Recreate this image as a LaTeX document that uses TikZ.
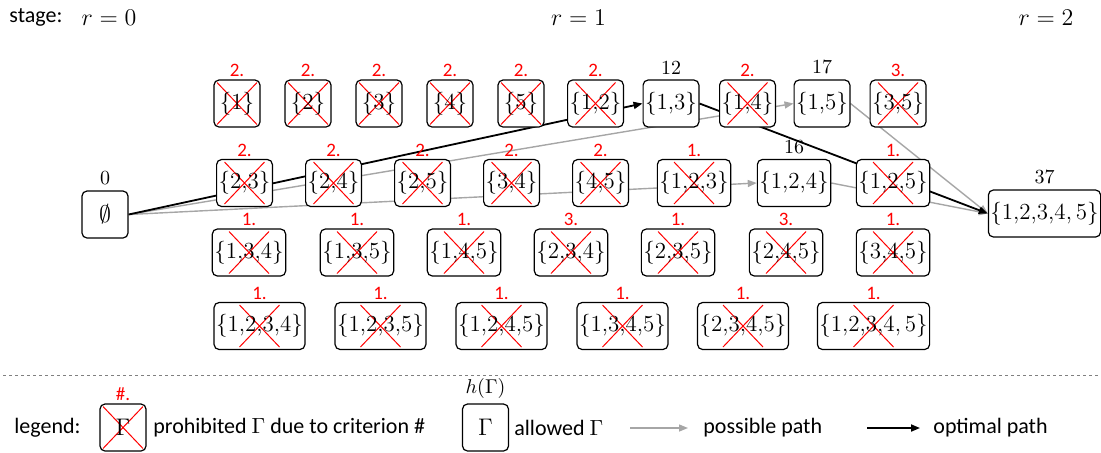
\documentclass[tikz,border=0pt]{standalone}
\usepackage{fontspec}
\setsansfont{Carlito}
\usetikzlibrary{arrows.meta,backgrounds}

\definecolor{pathgray}{RGB}{166,166,166}
\definecolor{crossred}{RGB}{255,0,0}

\tikzset{
  set/.style={draw, rounded corners=2.5pt, fill=white, line width=0.6pt,
    minimum width=23pt, minimum height=23.5pt, inner xsep=1pt, inner ysep=0pt,
    font=\fontsize{11.5}{13}\selectfont},
  crit/.style={text=crossred, font=\sffamily\fontsize{9.5}{10}\selectfont, inner sep=1pt},
  val/.style={font=\fontsize{10}{12}\selectfont, inner sep=1pt, label distance=1.5pt},
  banned/.style={set, label={[crit]above:#1},
    path picture={
      \draw[crossred, line width=0.5pt]
        ([shift={(-10pt,-10.5pt)}]path picture bounding box.center) --
        ([shift={(10pt,10.5pt)}]path picture bounding box.center)
        ([shift={(-10pt,10.5pt)}]path picture bounding box.center) --
        ([shift={(10pt,-10.5pt)}]path picture bounding box.center);
    }},
  ok/.style={set, label={[val]above:#1}},
  poss/.style={draw=pathgray, line width=0.7pt, -{Triangle[length=4.5pt,width=3.5pt]}},
  opt/.style={draw=black, line width=0.9pt, -{Triangle[length=4.5pt,width=3.5pt]}},
  txt/.style={font=\sffamily\fontsize{11}{13}\selectfont, inner sep=0pt, anchor=west},
  stg/.style={font=\fontsize{11.5}{13}\selectfont, inner sep=0pt},
}

\begin{document}
\begin{tikzpicture}[x=0.5pt, y=-0.5pt]
\useasboundingbox (0,0) rectangle (1101,452);

% stages
\node[txt] (stage) at (9,17) {stage:};
\node[stg] (r0) at (109,18) {$r=0$};
\node[stg] (r1) at (578.5,18) {$r=1$};
\node[stg] (r2) at (1046,18) {$r=2$};

% start and end
\node[ok=0] (start) at (105,214.5) {\fontsize{13}{13}\selectfont$\emptyset$};
\node[ok=37] (goal) at (1044.5,213.5) {\{1,2,3,4,\,5\}};

% sets with one or two elements
\foreach \n/\t/\x/\c in {1/1/237/2., 2/2/308/2., 3/3/379/2., 4/4/450/2., 5/5/521/2.,
    12/{1,2}/595.5/2., 14/{1,4}/747.5/2., 35/{3,5}/898/3.}
  \node[banned=\c] (n\n) at (\x,103.5) {\{\t\}};
\node[ok=12] (n13) at (671,103.5) {\{1,3\}};
\node[ok=17] (n15) at (822,103.5) {\{1,5\}};

\foreach \n/\t/\x/\c in {23/{2,3}/244.5/2., 24/{2,4}/333.5/2., 25/{2,5}/422.5/2.,
    34/{3,4}/511.5/2., 45/{4,5}/600.5/2., 123/{1,2,3}/694/1., 125/{1,2,5}/893/1.}
  \node[banned=\c] (n\n) at (\x,183) {\{\t\}};
\node[ok=16] (n124) at (794,183) {\{1,2,4\}};

% three elements
\foreach \n/\t/\x/\c in {134/{1,3,4}/249/1., 135/{1,3,5}/357/1., 145/{1,4,5}/464/1.,
    234/{2,3,4}/571/3., 235/{2,3,5}/678/1., 245/{2,4,5}/786/3., 345/{3,4,5}/893/1.}
  \node[banned=\c] (n\n) at (\x,252.5) {\{\t\}};

% four and five elements
\foreach \n/\t/\x in {1234/{1,2,3,4}/259.5, 1235/{1,2,3,5}/380.5, 1245/{1,2,4,5}/501.5,
    1345/{1,3,4,5}/622.5, 2345/{2,3,4,5}/743}
  \node[banned=1.] (n\n) at (\x,326) {\{\t\}};
\node[banned=1.] (n12345) at (873.5,326) {\{1,2,3,4,\,5\}};

% paths
\begin{scope}[on background layer]
  \draw[poss] (start.east) -- (n15.west);
  \draw[poss] (start.east) -- (n124.west);
  \draw[poss] (n15.east) -- (goal.west);
  \draw[poss] (n124.east) -- (goal.west);
  \draw[opt] (start.east) -- (n13.west);
  \draw[opt] (n13.east) -- (goal.west);
\end{scope}

\draw[gray, line width=0.4pt, dash pattern=on 1.5pt off 1.5pt] (3,375) -- (1101,375);

% legend
\node[txt] (leg) at (14,428) {legend:};
\node[banned=\#.] (lgban) at (123,427.5) {$\Gamma$};
\node[txt] (lgbantxt) at (153,428) {prohibited $\Gamma$ due to criterion \#};
\node[ok=$h(\Gamma)$] (lgok) at (485.5,427.5) {$\Gamma$};
\node[txt] (lgoktxt) at (514,428) {allowed $\Gamma$};
\coordinate (pa) at (630,428);
\coordinate (pb) at (688,428);
\draw[poss] (pa) -- (pb);
\node[txt] (lgposs) at (703,428) {possible path};
\coordinate (oa) at (867,428);
\coordinate (ob) at (920,428);
\draw[opt] (oa) -- (ob);
\node[txt] (lgopt) at (933,428) {optimal path};
\end{tikzpicture}
\end{document}
